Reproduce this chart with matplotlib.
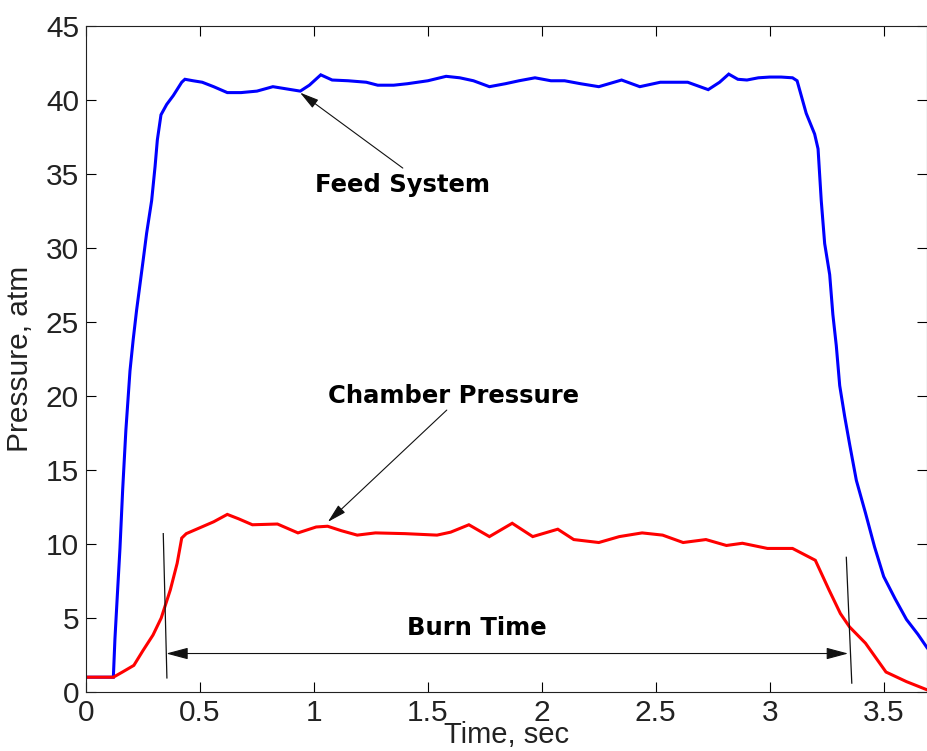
import numpy as np
import matplotlib.pyplot as plt

# feed system pressure trace (atm)
feed_t = [0.0, 0.12, 0.127, 0.137, 0.149, 0.161, 0.175, 0.193, 0.207, 0.222,
          0.251, 0.266, 0.288, 0.303, 0.313, 0.329, 0.354, 0.383, 0.42, 0.434,
          0.47, 0.51, 0.56, 0.62, 0.68, 0.75, 0.82, 0.86, 0.94, 0.98,
          1.03, 1.08, 1.15, 1.23, 1.28, 1.35, 1.41, 1.50, 1.58, 1.64,
          1.70, 1.77, 1.84, 1.90, 1.97, 2.04, 2.10, 2.17, 2.25, 2.35,
          2.43, 2.52, 2.58, 2.64, 2.73, 2.78, 2.82, 2.86, 2.90, 2.95,
          3.00, 3.05, 3.10, 3.12, 3.16, 3.197, 3.212, 3.226, 3.241, 3.263,
          3.277, 3.292, 3.307, 3.329, 3.351, 3.38, 3.42, 3.46, 3.50, 3.55,
          3.60, 3.65, 3.69]
feed_p = [1.0, 1.0, 3.6, 6.4, 9.7, 13.7, 17.7, 21.7, 23.8, 25.8,
          29.2, 31.0, 33.2, 35.5, 37.3, 39.0, 39.7, 40.3, 41.2, 41.4,
          41.3, 41.2, 40.9, 40.5, 40.5, 40.6, 40.9, 40.8, 40.6, 41.0,
          41.7, 41.35, 41.3, 41.2, 41.0, 41.0, 41.1, 41.3, 41.6, 41.5,
          41.3, 40.9, 41.1, 41.3, 41.5, 41.3, 41.3, 41.1, 40.9, 41.35,
          40.9, 41.2, 41.2, 41.2, 40.7, 41.2, 41.75, 41.4, 41.35, 41.5,
          41.55, 41.55, 41.5, 41.3, 39.1, 37.7, 36.7, 33.2, 30.3, 28.2,
          25.5, 23.4, 20.7, 18.6, 16.7, 14.3, 12.1, 9.8, 7.8, 6.3,
          4.9, 3.9, 3.0]

# combustion chamber pressure trace (atm)
chamber_t = [0.0, 0.12, 0.16, 0.21, 0.25, 0.294, 0.33, 0.37, 0.40, 0.42,
             0.44, 0.50, 0.56, 0.62, 0.67, 0.73, 0.84, 0.93, 1.01, 1.06,
             1.12, 1.19, 1.27, 1.40, 1.54, 1.60, 1.68, 1.77, 1.87, 1.96,
             2.07, 2.14, 2.25, 2.34, 2.44, 2.53, 2.62, 2.72, 2.81, 2.88,
             2.99, 3.10, 3.20, 3.26, 3.31, 3.35, 3.42, 3.51, 3.60, 3.69]
chamber_p = [1.0, 1.0, 1.35, 1.8, 2.8, 3.85, 5.0, 6.9, 8.7, 10.4,
             10.7, 11.1, 11.5, 12.0, 11.7, 11.3, 11.35, 10.75, 11.15, 11.2,
             10.9, 10.6, 10.75, 10.7, 10.6, 10.8, 11.3, 10.5, 11.4, 10.5,
             11.0, 10.3, 10.1, 10.5, 10.75, 10.6, 10.1, 10.3, 9.9, 10.05,
             9.7, 9.7, 8.9, 6.9, 5.3, 4.4, 3.3, 1.35, 0.7, 0.15]

# burn time markers: (t_top, p_top, t_bottom, p_bottom)
burn_start = (0.339, 10.7, 0.355, 0.95)
burn_end = (3.336, 9.1, 3.36, 0.6)
burn_arrow_p = 2.6

xticks = [0, 0.5, 1, 1.5, 2, 2.5, 3, 3.5]
xticklabels = ["0", "0.5", "1", "1.5", "2", "2.5", "3", "3.5"]
yticks = [0, 5, 10, 15, 20, 25, 30, 35, 40, 45]

plt.rcParams["font.family"] = ["Liberation Sans", "DejaVu Sans"]

fig = plt.figure(figsize=(9.28, 7.51), dpi=100)
ax = fig.add_axes([86 / 928, 59 / 751, 841 / 928, 666 / 751])

ax.plot(feed_t, feed_p, color="#0000ff", lw=2.2, solid_joinstyle="miter")
ax.plot(chamber_t, chamber_p, color="#ff0000", lw=2.2, solid_joinstyle="miter")

ax.set_xlim(0, 3.69)
ax.set_ylim(0, 45)
ax.set_xticks(xticks)
ax.set_xticklabels(xticklabels)
ax.set_yticks(yticks)
ax.tick_params(direction="in", top=True, right=True, length=7, width=0.8,
               labelsize=21.5, labelcolor="#222222", pad=5)
for sp in ax.spines.values():
    sp.set_linewidth(0.8)
    sp.set_color("#222222")

# the x label sits tight under the tick labels
ax.set_xlabel("Time, sec", fontsize=21, color="#222222")
ax.xaxis.set_label_coords(0.5, -0.044)
ax.set_ylabel("Pressure, atm", fontsize=21.5, color="#222222")
ax.yaxis.set_label_coords(-0.062, 0.5)

# annotations
note_font = dict(fontsize=17.5, fontweight="bold", family="DejaVu Sans",
                 ha="center", va="baseline", color="black")
arrow_kw = dict(arrowstyle="-|>,head_length=0.65,head_width=0.17",
                color="#111111", lw=0.8, mutation_scale=18,
                shrinkA=0, shrinkB=0)

ax.text(1.39, 33.8, "Feed System", **note_font)
ax.annotate("", xy=(0.939, 40.5), xytext=(1.39, 35.4), arrowprops=arrow_kw)

ax.text(1.611, 19.5, "Chamber Pressure", **note_font)
ax.annotate("", xy=(1.061, 11.49), xytext=(1.583, 19.05), arrowprops=arrow_kw)

ax.text(1.713, 3.85, "Burn Time", **note_font)
for t0, p0, t1, p1 in (burn_start, burn_end):
    ax.plot([t0, t1], [p0, p1], color="#111111", lw=0.9)
dbl = dict(arrow_kw, arrowstyle="<|-|>,head_length=0.75,head_width=0.2")
ax.annotate("", xy=(burn_start[2] - 0.003, burn_arrow_p),
            xytext=(burn_end[0] + 0.008, burn_arrow_p), arrowprops=dbl)

fig.savefig("out.png", dpi=100)
